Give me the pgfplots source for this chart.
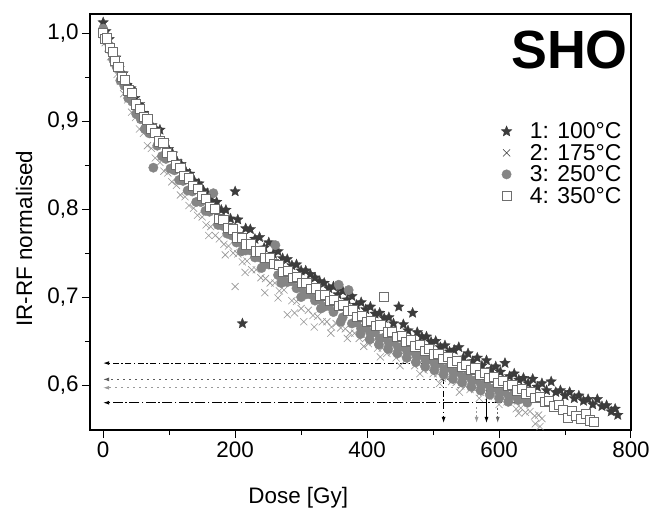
\documentclass[border=0pt]{standalone}
\usepackage{fontspec}
\setmainfont{Liberation Sans}
\usepackage{pgfplots}
\pgfplotsset{compat=1.18}
\usetikzlibrary{arrows.meta}
\definecolor{cstar}{HTML}{3C3C3C}
\definecolor{ccross}{HTML}{969696}
\definecolor{ccirc}{HTML}{858585}
\definecolor{csq}{HTML}{6E6E6E}
\pgfdeclareplotmark{fstar}{%
 \pgfpathmoveto{\pgfpointpolar{90}{\pgfplotmarksize}}%
 \pgfpathlineto{\pgfpointpolar{126}{0.45\pgfplotmarksize}}%
 \pgfpathlineto{\pgfpointpolar{162}{\pgfplotmarksize}}%
 \pgfpathlineto{\pgfpointpolar{198}{0.45\pgfplotmarksize}}%
 \pgfpathlineto{\pgfpointpolar{234}{\pgfplotmarksize}}%
 \pgfpathlineto{\pgfpointpolar{270}{0.45\pgfplotmarksize}}%
 \pgfpathlineto{\pgfpointpolar{306}{\pgfplotmarksize}}%
 \pgfpathlineto{\pgfpointpolar{342}{0.45\pgfplotmarksize}}%
 \pgfpathlineto{\pgfpointpolar{18}{\pgfplotmarksize}}%
 \pgfpathlineto{\pgfpointpolar{54}{0.45\pgfplotmarksize}}%
 \pgfpathclose
 \pgfusepathqfillstroke}
\begin{document}
\begin{tikzpicture}
\path[use as bounding box] (-90bp,-90bp) rectangle (564bp,430bp);
\begin{axis}[
  scale only axis, width=541bp, height=416bp,
  at={(0,0)}, anchor=south west,
  xmin=-20, xmax=800, ymin=0.549, ymax=1.0216,
  xtick={0,200,400,600,800}, minor xtick={100,300,500,700},
  ytick={0.6,0.7,0.8,0.9,1.0}, minor ytick={0.65,0.75,0.85,0.95},
  tick align=outside, xtick pos=bottom, ytick pos=left,
  major tick length=8bp, minor tick length=5bp,
  every tick/.style={black, line width=1bp},
  axis line style={black, line width=1.1bp},
  every tick label/.append style={font=\fontsize{22.5}{26}\selectfont},
  /pgf/number format/assume math mode=true,
  yticklabel style={/pgf/number format/.cd, use comma, fixed, fixed zerofill, precision=1},
  xticklabel style={/pgf/number format/.cd, fixed, precision=0},
  scaled ticks=false,
  xlabel={Dose [Gy]}, ylabel={IR-RF normalised},
  label style={font=\fontsize{22.5}{26}\selectfont},
  xlabel style={at={(axis description cs:0.385,-0.163)}, anchor=center},
  ylabel style={at={(axis description cs:-0.122,0.46)}, anchor=center},
  legend style={at={(axis description cs:0.76,0.744)}, anchor=north west, draw=none, fill=none,
    font=\fontsize{23}{25}\selectfont, row sep=0bp, inner sep=0pt,
    /tikz/every odd column/.append style={column sep=16bp}},
  legend cell align=left,
]
\addplot[only marks, mark=fstar, mark size=5.5bp, draw=cstar, fill=cstar, line width=0.3bp, forget plot] table {
0 1.012
4 1.002
9 0.993
14 0.980
19 0.972
24 0.960
30 0.954
36 0.941
42 0.937
48 0.926
55 0.919
61 0.909
67 0.905
74 0.895
80 0.891
86 0.890
92 0.876
99 0.868
105 0.863
112 0.854
118 0.851
125 0.843
131 0.840
138 0.832
145 0.829
152 0.821
158 0.818
165 0.809
172 0.808
179 0.799
186 0.799
193 0.789
200 0.820
204 0.788
211 0.670
216 0.778
223 0.777
230 0.766
237 0.768
244 0.756
251 0.762
258 0.749
265 0.752
272 0.744
279 0.743
286 0.736
293 0.737
300 0.730
307 0.730
314 0.726
321 0.722
328 0.718
335 0.716
342 0.710
349 0.712
356 0.703
363 0.707
370 0.697
377 0.701
384 0.691
391 0.694
398 0.686
405 0.689
412 0.681
419 0.682
426 0.676
433 0.677
440 0.670
448 0.689
455 0.669
462 0.662
469 0.682
476 0.660
483 0.655
490 0.655
497 0.649
504 0.650
511 0.643
518 0.645
525 0.638
532 0.640
539 0.643
546 0.631
553 0.636
560 0.627
567 0.631
574 0.622
581 0.628
588 0.618
595 0.621
602 0.615
609 0.625
616 0.610
623 0.613
630 0.606
637 0.608
644 0.602
651 0.607
658 0.598
665 0.602
672 0.594
679 0.604
686 0.592
693 0.594
700 0.588
707 0.592
714 0.585
721 0.588
728 0.582
735 0.584
742 0.578
749 0.584
756 0.576
763 0.577
770 0.570
776 0.573
780 0.566
};
\addplot[only marks, mark=x, mark size=5bp, draw=ccross, line width=0.6bp, forget plot] table {
0 0.998
3 0.989
7 0.983
11 0.973
16 0.966
21 0.953
26 0.945
31 0.931
37 0.924
43 0.910
49 0.904
55 0.891
61 0.886
67 0.872
73 0.869
79 0.858
86 0.853
92 0.843
98 0.841
104 0.831
111 0.827
117 0.816
124 0.814
130 0.804
137 0.801
143 0.793
150 0.791
156 0.782
160 0.770
163 0.780
170 0.770
176 0.766
183 0.760
185 0.748
190 0.758
197 0.750
200 0.712
204 0.749
211 0.740
215 0.728
218 0.741
225 0.731
232 0.731
239 0.722
245 0.705
246 0.721
253 0.716
260 0.716
265 0.699
267 0.707
274 0.708
279 0.680
286 0.696
290 0.682
293 0.695
300 0.687
304 0.672
311 0.685
318 0.679
320 0.666
325 0.678
332 0.672
339 0.672
345 0.659
346 0.666
353 0.670
360 0.665
367 0.664
370 0.653
374 0.659
381 0.659
388 0.653
395 0.644
398 0.653
402 0.647
409 0.649
416 0.642
420 0.632
423 0.642
430 0.636
437 0.637
444 0.631
450 0.622
451 0.634
458 0.628
465 0.629
472 0.622
479 0.624
480 0.613
486 0.617
493 0.618
500 0.613
507 0.613
510 0.602
514 0.608
521 0.608
528 0.604
535 0.603
540 0.592
542 0.599
549 0.599
556 0.595
563 0.595
570 0.585
572 0.592
577 0.592
584 0.587
591 0.589
598 0.584
600 0.578
605 0.585
612 0.581
619 0.582
626 0.573
630 0.568
633 0.574
640 0.569
647 0.570
654 0.565
655 0.556
660 0.566
662 0.553
665 0.562
};
\addplot[only marks, mark=*, mark size=4.7bp, draw=ccirc, fill=ccirc, forget plot] table {
0 1.005
5 0.991
10 0.985
15 0.970
20 0.962
26 0.946
32 0.940
38 0.926
44 0.922
50 0.908
57 0.902
63 0.891
70 0.886
76 0.847
82 0.872
89 0.860
95 0.857
102 0.846
108 0.844
115 0.833
121 0.832
128 0.821
135 0.820
141 0.808
148 0.808
155 0.798
161 0.797
167 0.818
174 0.782
181 0.781
188 0.772
195 0.770
202 0.762
209 0.762
210 0.752
216 0.753
223 0.753
230 0.745
237 0.745
240 0.733
244 0.737
251 0.737
261 0.759
265 0.725
270 0.716
272 0.725
279 0.717
286 0.718
293 0.710
300 0.710
300 0.700
307 0.703
314 0.703
321 0.696
328 0.697
330 0.687
335 0.689
342 0.690
349 0.683
357 0.714
360 0.672
363 0.677
372 0.708
377 0.670
384 0.671
390 0.658
391 0.664
398 0.665
404 0.652
405 0.659
412 0.660
418 0.646
419 0.653
426 0.654
432 0.641
433 0.648
440 0.649
446 0.636
447 0.643
454 0.644
460 0.631
461 0.638
468 0.639
474 0.626
475 0.633
482 0.634
488 0.621
489 0.628
496 0.629
502 0.617
503 0.623
510 0.625
516 0.612
517 0.618
524 0.620
530 0.607
531 0.614
538 0.615
544 0.603
545 0.609
552 0.611
558 0.598
559 0.605
566 0.606
572 0.594
573 0.600
580 0.602
586 0.589
587 0.596
594 0.597
600 0.585
601 0.591
608 0.593
614 0.581
615 0.587
622 0.589
629 0.583
636 0.585
643 0.580
};
\addplot[only marks, mark=square*, mark size=4.6bp, draw=csq, fill=white, line width=0.6bp, forget plot] table {
0 1.000
3 0.993
6 0.994
10 0.983
14 0.979
18 0.968
23 0.962
28 0.950
33 0.947
38 0.935
43 0.932
49 0.919
55 0.914
61 0.905
67 0.902
73 0.891
79 0.887
85 0.877
91 0.875
97 0.864
104 0.860
110 0.850
117 0.847
123 0.838
130 0.835
136 0.826
143 0.823
149 0.815
156 0.812
162 0.803
169 0.800
176 0.789
182 0.788
189 0.779
196 0.777
203 0.768
210 0.767
217 0.760
224 0.760
231 0.752
238 0.752
245 0.745
252 0.745
259 0.738
266 0.737
273 0.729
280 0.730
287 0.722
294 0.723
301 0.716
308 0.716
315 0.709
322 0.710
329 0.702
336 0.703
343 0.696
350 0.697
357 0.690
364 0.691
371 0.684
378 0.685
385 0.678
392 0.679
399 0.672
406 0.673
413 0.667
420 0.668
425 0.700
431 0.660
438 0.661
445 0.655
452 0.656
459 0.649
466 0.651
473 0.644
480 0.646
487 0.639
494 0.641
501 0.635
508 0.636
515 0.630
522 0.632
529 0.626
536 0.628
543 0.621
550 0.623
557 0.617
564 0.619
571 0.612
578 0.614
585 0.608
592 0.609
599 0.603
606 0.605
613 0.599
620 0.600
627 0.594
634 0.596
641 0.590
648 0.592
655 0.586
662 0.587
669 0.581
676 0.582
683 0.576
690 0.578
697 0.572
704 0.563
710 0.571
717 0.565
724 0.562
731 0.567
738 0.560
744 0.558
};
\addlegendimage{only marks, mark=fstar, mark size=5.5bp, draw=cstar, fill=cstar}
\addlegendentry{1: 100°C}
\addlegendimage{only marks, mark=x, mark size=5bp, draw=black!80, line width=0.6bp}
\addlegendentry{2: 175°C}
\addlegendimage{only marks, mark=*, mark size=4.7bp, draw=ccirc, fill=ccirc}
\addlegendentry{3: 250°C}
\addlegendimage{only marks, mark=square*, mark size=4.6bp, draw=csq, fill=white, line width=0.6bp}
\addlegendentry{4: 350°C}
% annotation arrows
\draw[black, line width=0.9bp, dash pattern=on 6bp off 2.5bp on 1.5bp off 2.5bp, -{Latex[length=6bp,width=4bp]}] (axis cs:516,0.625) -- (axis cs:0,0.625);
\draw[black!65, line width=0.9bp, dash pattern=on 1.5bp off 4.5bp, -{Latex[length=6bp,width=4bp]}] (axis cs:560,0.6065) -- (axis cs:0,0.6065);
\draw[black!40, line width=0.9bp, dash pattern=on 1.5bp off 4.5bp, -{Latex[length=6bp,width=4bp]}] (axis cs:575,0.597) -- (axis cs:0,0.597);
\draw[black, line width=0.9bp, dash pattern=on 10bp off 2.5bp on 1.5bp off 2.5bp, -{Latex[length=6bp,width=4bp]}] (axis cs:630,0.580) -- (axis cs:0,0.580);
\draw[black, line width=0.9bp, dash pattern=on 6bp off 2.5bp on 1.5bp off 2.5bp, -{Latex[length=6bp,width=4bp]}] (axis cs:516,0.636) -- (axis cs:516,0.557);
\draw[black!40, line width=0.9bp, dash pattern=on 2bp off 2bp, -{Latex[length=6bp,width=4bp]}] (axis cs:566,0.575) -- (axis cs:566,0.557);
\draw[black, line width=0.9bp, -{Latex[length=6bp,width=4bp]}] (axis cs:581,0.598) -- (axis cs:581,0.557);
\draw[black!60, line width=0.9bp, dash pattern=on 2bp off 2bp, -{Latex[length=6bp,width=4bp]}] (axis cs:598,0.574) -- (axis cs:598,0.557);
\node[anchor=north east, inner sep=0pt, font=\fontsize{54}{54}\selectfont\bfseries] at (axis description cs:0.9945,0.96) {SHO};
\end{axis}
\end{tikzpicture}
\end{document}
